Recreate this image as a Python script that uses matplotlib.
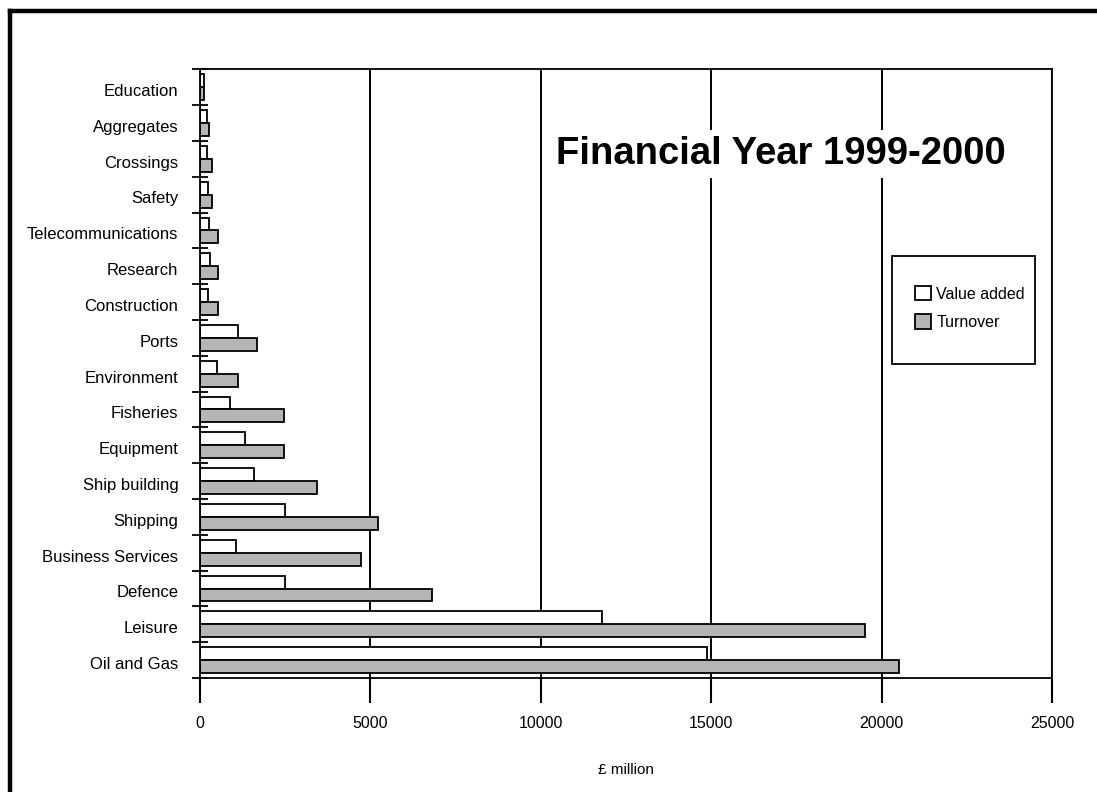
import numpy as np
import matplotlib.pyplot as plt
from matplotlib.patches import Rectangle
from matplotlib.lines import Line2D

plt.rcParams['font.family'] = ['Liberation Sans', 'DejaVu Sans']

# categories, top to bottom
sectors = ['Education', 'Aggregates', 'Crossings', 'Safety', 'Telecommunications',
           'Research', 'Construction', 'Ports', 'Environment', 'Fisheries',
           'Equipment', 'Ship building', 'Shipping', 'Business Services',
           'Defence', 'Leisure', 'Oil and Gas']
value_added = [120, 195, 195, 225, 275, 295, 245, 1125, 510, 880,
               1330, 1575, 2505, 1045, 2480, 11800, 14870]
turnover = [130, 275, 350, 350, 540, 540, 540, 1685, 1125, 2455,
            2455, 3425, 5215, 4710, 6820, 19500, 20500]
xticks = [0, 5000, 10000, 15000, 20000, 25000]

fig = plt.figure(figsize=(10.97, 7.92), dpi=100)
ax = fig.add_axes([0.1823, 0.1439, 0.7767, 0.7686])

pos = np.arange(len(sectors))
h = 0.36
ax.barh(pos - h / 2, value_added, height=h, color='white', edgecolor='black',
        linewidth=1.3, label='Value added')
ax.barh(pos + h / 2, turnover, height=h, color='#b5b5b5', edgecolor='black',
        linewidth=1.3, label='Turnover')

ax.set_xlim(0, 25000)
ax.set_ylim(len(sectors) - 0.5, -0.5)

# category boundaries get the tick marks, names sit in between (a bit low, as in the original)
ax.set_yticks(np.arange(-0.5, len(sectors), 1.0))
ax.set_yticklabels([])
ax.set_yticks(pos + 0.08, minor=True)
ax.set_yticklabels(sectors, minor=True, fontsize=12)
ax.tick_params(axis='y', which='major', direction='inout', length=11, width=1.3)
ax.tick_params(axis='y', which='minor', length=0, pad=15.5)

ax.set_xticks(xticks)
ax.set_xticklabels([str(t) for t in xticks], fontsize=11.5)
ax.tick_params(axis='x', direction='out', length=18, width=1.5, pad=9)

ax.set_axisbelow(True)
ax.grid(axis='x', color='black', linewidth=1.4)
ax.grid(axis='y', visible=False)
for s in ax.spines.values():
    s.set_linewidth(1.3)

ax.set_xlabel('£ million', fontsize=11)
ax.xaxis.set_label_coords(0.5, -0.14)

ax.text(0.6818, 0.8444, 'Financial Year 1999-2000', transform=ax.transAxes,
        fontsize=27.5, fontweight='bold', ha='center', va='baseline',
        bbox=dict(boxstyle='square,pad=0.15', facecolor='white', edgecolor='none'),
        zorder=5)

# legend box
ax.add_patch(Rectangle((0.812, 0.516), 0.168, 0.178, transform=ax.transAxes,
                       facecolor='white', edgecolor='black', linewidth=1.3, zorder=5))
leg = ax.legend(loc='center', bbox_to_anchor=(0.9038, 0.608), frameon=False,
                fontsize=11.5, handlelength=1.0, handleheight=1.0,
                handletextpad=0.3, labelspacing=0.8)
leg.set_zorder(6)

# thick frame lines at top and left of the page
fig.add_artist(Line2D([10.3 / 1097, 10.3 / 1097], [0, 1 - 11.3 / 792], color='black',
                      linewidth=3.2, transform=fig.transFigure))
fig.add_artist(Line2D([10.3 / 1097, 1], [1 - 11.3 / 792, 1 - 11.3 / 792], color='black',
                      linewidth=3.2, transform=fig.transFigure, solid_capstyle='projecting'))

fig.savefig('out.png', dpi=100)
